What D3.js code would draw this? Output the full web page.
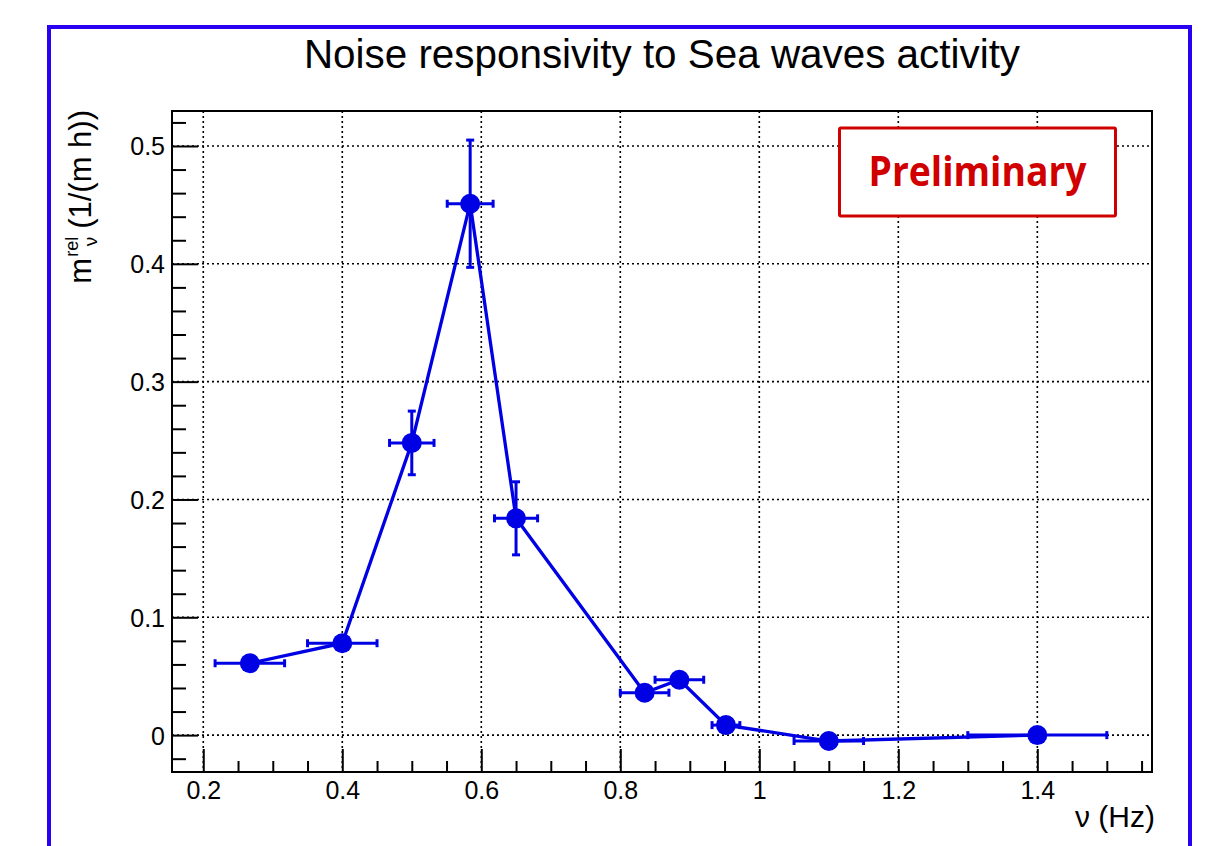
<!DOCTYPE html>
<html>
<head>
<meta charset="utf-8">
<script src="https://cdn.jsdelivr.net/npm/d3@7"></script>
<style>
  html, body { margin: 0; padding: 0; background: #ffffff; }
  svg { display: block; }
</style>
</head>
<body>
<script>
// ---- data ----
const freq     = [0.267, 0.400, 0.500, 0.584, 0.650, 0.835, 0.885, 0.952, 1.100, 1.400];
const resp     = [0.061, 0.078, 0.248, 0.451, 0.184, 0.036, 0.047, 0.0085, -0.005, 0.000];
const freqErr  = [0.050, 0.050, 0.032, 0.033, 0.031, 0.035, 0.035, 0.020, 0.050, 0.100];
const respErr  = [0.003, 0.003, 0.027, 0.054, 0.031, 0.003, 0.003, 0.003, 0.003, 0.002];
const xMajorTicks = [0.2, 0.4, 0.6, 0.8, 1.0, 1.2, 1.4];
const yMajorTicks = [0, 0.1, 0.2, 0.3, 0.4, 0.5];
const xMinorTicks = [0.25, 0.3, 0.35, 0.45, 0.5, 0.55, 0.65, 0.7, 0.75, 0.85, 0.9, 0.95, 1.05, 1.1, 1.15, 1.25, 1.3, 1.35, 1.45, 1.5, 1.55];
const yMinorTicks = [-0.02, 0.02, 0.04, 0.06, 0.08, 0.12, 0.14, 0.16, 0.18, 0.22, 0.24, 0.26, 0.28, 0.32, 0.34, 0.36, 0.38, 0.42, 0.44, 0.46, 0.48, 0.52];
const titleText = "Noise responsivity to Sea waves activity";
const xTitle = "ν (Hz)";
const stampText = "Preliminary";

(function () {
const W = 1230, H = 846;
const pL = 172, pR = 1152, pT = 111, pB = 772;
const blue = "#0000e4";

const svg = d3.select("body").append("svg").attr("width", W).attr("height", H);
svg.append("rect").attr("width", W).attr("height", H).attr("fill", "#fff");

// outer blue frame
svg.append("rect").attr("x", 49).attr("y", 27).attr("width", 1141).attr("height", 860)
  .attr("fill", "none").attr("stroke", "#2a00f2").attr("stroke-width", 4);

const x = d3.scaleLinear().domain([0.155, 1.565]).range([pL, pR]);
const y = d3.scaleLinear().domain([-0.0313, 0.5297]).range([pB, pT]);

const font = "'Liberation Sans', Arial, Helvetica, sans-serif";

// grid
const grid = svg.append("g").attr("stroke", "#000").attr("stroke-width", 1.6).attr("stroke-dasharray", "2,3");
grid.selectAll(".gx").data(xMajorTicks).join("line").attr("class", "gx")
  .attr("x1", d => x(d)).attr("x2", d => x(d)).attr("y1", pT).attr("y2", pB);
grid.selectAll(".gy").data(yMajorTicks).join("line").attr("class", "gy")
  .attr("x1", pL).attr("x2", pR).attr("y1", d => y(d)).attr("y2", d => y(d));

// axes (ticks inward)
const xAxis = d3.axisBottom(x).tickValues(xMajorTicks).tickSize(-23).tickPadding(8)
  .tickFormat(d => d3.format("~g")(d));
const gx = svg.append("g").attr("transform", `translate(0,${pB})`).call(xAxis);
const gxm = svg.append("g").attr("transform", `translate(0,${pB})`)
  .call(d3.axisBottom(x).tickValues(xMinorTicks).tickSize(-11).tickFormat(""));
const yAxis = d3.axisLeft(y).tickValues(yMajorTicks).tickSize(-26).tickPadding(7)
  .tickFormat(d => d3.format("~g")(d));
const gy = svg.append("g").attr("transform", `translate(${pL},0)`).call(yAxis);
const gym = svg.append("g").attr("transform", `translate(${pL},0)`)
  .call(d3.axisLeft(y).tickValues(yMinorTicks).tickSize(-14).tickFormat(""));
[gx, gxm, gy, gym].forEach(g => {
  g.select(".domain").remove();
  g.selectAll("line").attr("stroke", "#000").attr("stroke-width", 2);
  g.selectAll("text").attr("font-family", font).attr("font-size", 25).attr("fill", "#000");
});
gx.selectAll("text").attr("dy", null).attr("y", 27);
gy.selectAll("text").attr("dy", "0.36em");

// plot frame
svg.append("rect").attr("x", pL).attr("y", pT).attr("width", pR - pL).attr("height", pB - pT)
  .attr("fill", "none").attr("stroke", "#000").attr("stroke-width", 2);

// title
svg.append("text").attr("x", (pL + pR) / 2).attr("y", 68).attr("text-anchor", "middle")
  .attr("font-family", font).attr("font-size", 40.4).attr("fill", "#000").text(titleText);

// x title
svg.append("text").attr("x", 1155).attr("y", 827).attr("text-anchor", "end")
  .attr("font-family", font).attr("font-size", 30).attr("fill", "#000").text(xTitle);

// y title: m_ν^rel (1/(m h))
const yt = svg.append("g").attr("transform", "translate(91,110) rotate(-90)")
  .attr("font-family", font).attr("fill", "#000");
const main = yt.append("text").attr("x", 0).attr("y", 0).attr("text-anchor", "end")
  .attr("font-size", 31).text("(1/(m h))");
const w1 = main.node().getComputedTextLength() + 8;
const sup = yt.append("text").attr("x", -w1).attr("y", -13).attr("text-anchor", "end")
  .attr("font-size", 18).text("rel");
const sub = yt.append("text").attr("x", -w1).attr("y", 6).attr("text-anchor", "end")
  .attr("font-size", 19).text("ν");
const ws = Math.max(sup.node().getComputedTextLength(), sub.node().getComputedTextLength()) + 1;
yt.append("text").attr("x", -w1 - ws).attr("y", 0).attr("text-anchor", "end")
  .attr("font-size", 31).text("m");

// data
const pts = freq.map((f, i) => ({ f, r: resp[i], ef: freqErr[i], er: respErr[i] }));
const line = d3.line().x(d => x(d.f)).y(d => y(d.r));
const dg = svg.append("g");
dg.append("path").datum(pts).attr("d", line).attr("fill", "none")
  .attr("stroke", blue).attr("stroke-width", 3.3);

const cap = 4;
const eb = dg.append("g").attr("stroke", blue).attr("stroke-width", 3);
pts.forEach(d => {
  const cx = x(d.f), cy = y(d.r);
  const x0 = x(d.f - d.ef), x1 = x(d.f + d.ef);
  const y0 = y(d.r - d.er), y1 = y(d.r + d.er);
  eb.append("line").attr("x1", x0).attr("x2", x1).attr("y1", cy).attr("y2", cy);
  eb.append("line").attr("x1", x0).attr("x2", x0).attr("y1", cy - cap).attr("y2", cy + cap);
  eb.append("line").attr("x1", x1).attr("x2", x1).attr("y1", cy - cap).attr("y2", cy + cap);
  if (Math.abs(y1 - y0) > 20) {
    eb.append("line").attr("x1", cx).attr("x2", cx).attr("y1", y0).attr("y2", y1);
    eb.append("line").attr("x1", cx - cap).attr("x2", cx + cap).attr("y1", y0).attr("y2", y0);
    eb.append("line").attr("x1", cx - cap).attr("x2", cx + cap).attr("y1", y1).attr("y2", y1);
  }
});
dg.selectAll("circle").data(pts).join("circle")
  .attr("cx", d => x(d.f)).attr("cy", d => y(d.r)).attr("r", 10).attr("fill", blue);

// Preliminary stamp
svg.append("rect").attr("x", 839.5).attr("y", 128).attr("width", 276).attr("height", 88)
  .attr("fill", "#fff").attr("stroke", "#d00000").attr("stroke-width", 3).attr("rx", 1.5);
svg.append("text").attr("x", 977.5).attr("y", 186).attr("text-anchor", "middle")
  .attr("font-family", "'Open Sans', 'Noto Sans', sans-serif").attr("font-weight", "bold")
  .attr("font-size", 42).attr("fill", "#d00000")
  .attr("textLength", 218).attr("lengthAdjust", "spacingAndGlyphs").text(stampText);
})();
</script>
</body>
</html>
